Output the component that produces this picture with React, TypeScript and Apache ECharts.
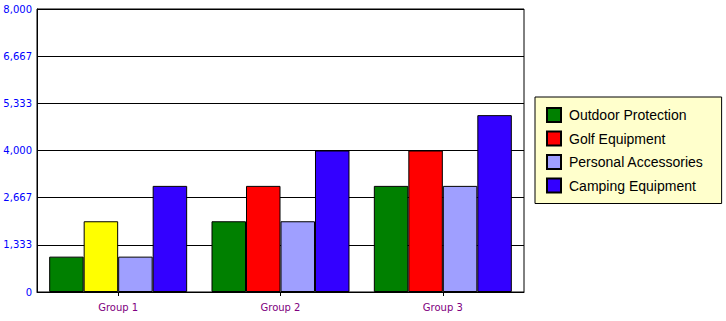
import React, { useEffect, useRef } from "react";
import * as echarts from "echarts";

const categories = ["Group 1", "Group 2", "Group 3"];
const seriesNames = ["Outdoor Protection", "Golf Equipment", "Personal Accessories", "Camping Equipment"];
const outdoorProtection = [1000, 2000, 3000];
const golfEquipment = [2000, 3000, 4000];
const personalAccessories = [1000, 2000, 3000];
const campingEquipment = [3000, 4000, 5000];
const seriesColors = ["#008000", "#ff0000", "#9f9fff", "#3300ff"];
const highlightColor = "#ffff00"; // Golf Equipment, Group 1
const yMin = 0;
const yMax = 8000;
const ySteps = 6;

export default function App() {
  const ref = useRef<HTMLDivElement>(null);
  useEffect(() => {
    if (!ref.current) return;
    const chart = echarts.init(ref.current, null, { renderer: "svg" });
    const values = [outdoorProtection, golfEquipment, personalAccessories, campingEquipment];
    chart.setOption({
      animation: false,
      backgroundColor: "#ffffff",
      grid: {
        left: 37,
        top: 9,
        right: 202,
        bottom: 29,
        show: true,
        borderColor: "#000000",
        borderWidth: 1,
        containLabel: false,
      },
      legend: {
        orient: "vertical",
        left: 535,
        top: 97,
        width: 187,
        padding: [10, 18, 10, 11],
        itemGap: 7.5,
        itemWidth: 14,
        itemHeight: 14,
        backgroundColor: "#ffffcc",
        borderColor: "#000000",
        borderWidth: 1,
        icon: "rect",
        textStyle: {
          fontFamily: "Liberation Sans, Arial, sans-serif",
          fontSize: 14,
          color: "#000000",
          padding: [0, 0, 0, 3],
        },
        data: seriesNames,
      },
      xAxis: {
        type: "category",
        data: categories,
        axisLine: { lineStyle: { color: "#000000", width: 1 } },
        axisTick: { show: true, alignWithLabel: true, length: 4, lineStyle: { color: "#000000" } },
        axisLabel: {
          color: "#800080",
          fontFamily: "DejaVu Sans, Verdana, sans-serif",
          fontSize: 10,
          margin: 10,
        },
        splitLine: { show: false },
      },
      yAxis: {
        type: "value",
        min: yMin,
        max: yMax,
        interval: (yMax - yMin) / ySteps,
        axisLine: { show: true, lineStyle: { color: "#000000", width: 1 } },
        axisTick: { show: false },
        axisLabel: {
          color: "#0000ff",
          fontFamily: "DejaVu Sans, Verdana, sans-serif",
          fontSize: 10,
          margin: 5,
          formatter: (v: number) => Math.round(v).toLocaleString("en-US"),
        },
        splitLine: { show: true, lineStyle: { color: "#000000", width: 1 } },
      },
      series: seriesNames.map((name, i) => ({
        name,
        type: "bar",
        barGap: "0%",
        barCategoryGap: "15%",
        itemStyle: { color: seriesColors[i], borderColor: "#000000", borderWidth: 1 },
        data: values[i].map((v, j) =>
          i === 1 && j === 0 ? { value: v, itemStyle: { color: highlightColor } } : v
        ),
      })),
    });
    return () => chart.dispose();
  }, []);
  return (
    <div
      ref={ref}
      style={{ position: "fixed", left: 0, top: 0, width: 726, height: 321 }}
    />
  );
}
